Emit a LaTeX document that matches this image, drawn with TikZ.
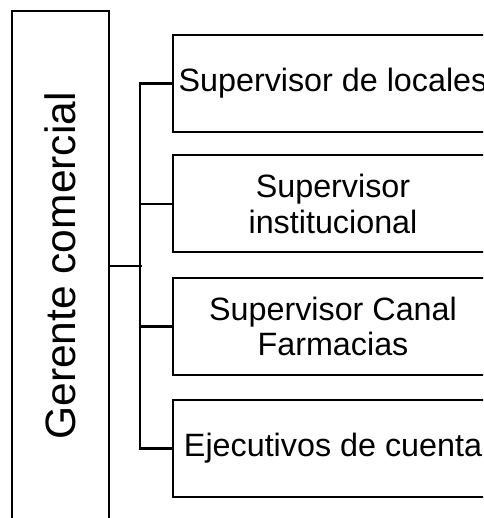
\documentclass[tikz,border=0pt]{standalone}
\usepackage{fontspec}
\setmainfont{Liberation Sans}
\begin{document}
\begin{tikzpicture}[x=1pt,y=1pt,
  box/.style={draw=black, line width=2pt, minimum width=320pt, minimum height=97pt, inner sep=0pt, align=center, font=\fontsize{32.3}{35.5}\selectfont},
  bigbox/.style={draw=black, line width=2pt, minimum width=97pt, minimum height=510pt, inner sep=0pt},
  conn/.style={draw=black, line width=2.4pt}]
\useasboundingbox (0,0) rectangle (483,518);
\clip (0,0) rectangle (483,518);
\fill[white] (0,0) rectangle (483,518);
\node[bigbox] (L) at (60.5,252) {};
\node[rotate=90, font=\fontsize{42.5}{48}\selectfont, inner sep=0pt] (Lt) at (L.center) {Gerente comercial};
\node[box] (b1) at (333,434.5) {Supervisor de locales};
\node[box] (b2) at (333,314) {Supervisor\\institucional};
\node[box] (b3) at (333,191.5) {Supervisor Canal\\Farmacias};
\node[box] (b4) at (333,69.5) {Ejecutivos de cuenta};
\draw[conn] (L.east) -- ++(32,0);
\draw[conn] (b1.west) -- ++(-32,0) |- (b4.west);
\draw[conn] (b2.west) -- ++(-32,0);
\draw[conn] (b3.west) -- ++(-32,0);
\end{tikzpicture}
\end{document}
